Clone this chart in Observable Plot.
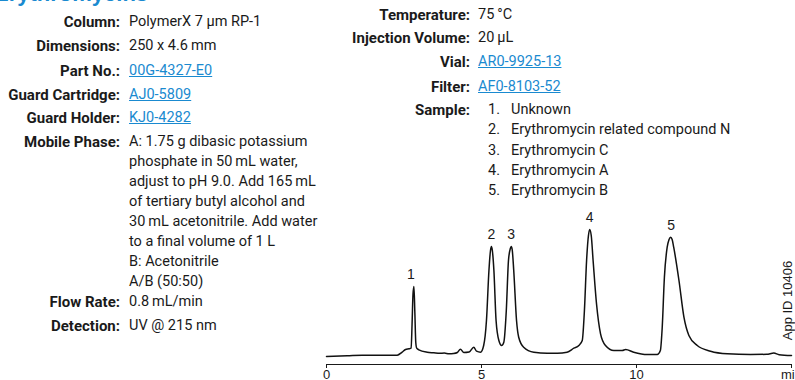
<!DOCTYPE html>
<html>
<head>
<meta charset="utf-8">
<script src="https://cdn.jsdelivr.net/npm/d3@7"></script>
<script src="https://cdn.jsdelivr.net/npm/@observablehq/plot@0.6"></script>
<style>
  html, body { margin: 0; padding: 0; background: #fff; }
  #wrap { position: relative; width: 795px; height: 380px; overflow: hidden; }
  #chart { position: absolute; left: 0; top: 0; }
  .t { position: absolute; white-space: nowrap; font-family: "Roboto", "Liberation Sans", sans-serif; font-size: 14.5px; line-height: 20px; color: #1a1a1a; }
  .lab { font-weight: bold; text-align: right; font-size: 15px; }
  .link { color: #1a8ad0; text-decoration: underline; }
  .title { position: absolute; left: -6px; top: -19px; font-family: "Liberation Sans", Arial, sans-serif; font-weight: bold; font-size: 22px; color: #1a8ad0; white-space: nowrap; }
  .appid { position: absolute; font-family: "Liberation Sans", Arial, sans-serif; font-size: 13px; color: #1a1a1a; white-space: nowrap; transform-origin: center; }
</style>
</head>
<body>
<div id="wrap">
  <div id="chart"></div>
</div>
<script>
// ---- Chromatogram trace (time in min, signal in arbitrary units) ----
const traceTime = [0, 0.67, 1.15, 2.28, 2.44, 2.55, 2.66, 2.73, 2.76, 2.79, 2.82, 2.85, 2.88, 2.91, 2.98, 3.25, 3.46, 3.65, 3.8, 3.95, 4.1, 4.22, 4.32, 4.43, 4.6, 4.75, 4.84, 4.97, 5.07, 5.16, 5.24, 5.29, 5.32, 5.35, 5.40, 5.47, 5.56, 5.65, 5.72, 5.80, 5.87, 5.93, 5.96, 5.99, 6.04, 6.13, 6.20, 6.36, 6.69, 7.12, 7.45, 7.76, 7.98, 8.14, 8.25, 8.32, 8.39, 8.45, 8.49, 8.54, 8.60, 8.71, 8.84, 9.0, 9.27, 9.54, 9.65, 9.91, 10.35, 10.67, 10.77, 10.83, 10.90, 10.99, 11.05, 11.10, 11.15, 11.20, 11.37, 11.53, 11.69, 11.96, 12.39, 12.93, 13.68, 14.2, 14.43, 14.6, 15];
const traceSignal = [8, 8.7, 9.3, 9.3, 12.3, 15, 15.7, 16.3, 40, 70, 78, 52, 22, 16.3, 14.7, 12.3, 11.7, 11.2, 11.4, 10.7, 11, 12, 15.3, 12, 12.5, 17.3, 13.3, 12.3, 19, 44, 94, 114, 118, 114, 94, 44, 24, 19, 22.3, 54, 104, 116, 118, 115, 94, 44, 27.3, 17.3, 12.3, 11.3, 11.3, 12.3, 16.3, 19, 24, 54, 104, 129, 135, 129, 104, 60.7, 30.7, 19, 14, 14, 15, 12.3, 10, 10, 14, 37.3, 87.3, 117.3, 125, 127.3, 125, 117.3, 84, 47.3, 29, 19, 13.3, 10.7, 10, 10.2, 11.5, 9.8, 9];

// ---- Peaks ----
const peakIds = ["1", "2", "3", "4", "5"];
const peakTimes = [2.72, 5.32, 5.96, 8.49, 11.12];
const peakHeights = [78, 118, 118, 135, 127];

// ---- Axis ticks ----
const tickValues = [0, 5, 10, 15];
const tickLabels = ["0", "5", "10", "min"];

// ---- Conditions text ----
const leftLabels = ["Column:", "Dimensions:", "Part No.:", "Guard Cartridge:", "Guard Holder:", "Mobile Phase:", "Flow Rate:", "Detection:"];
const leftValues = [
  ["PolymerX 7 µm RP-1"],
  ["250 x 4.6\u2009mm"],
  ["00G-4327-E0"],
  ["AJ0-5809"],
  ["KJ0-4282"],
  ["A: 1.75 g dibasic potassium", "phosphate in 50\u2009mL water,", "adjust to pH 9.0. Add 165\u2009mL", "of tertiary butyl alcohol and", "30\u2009mL acetonitrile. Add water", "to a final volume of 1 L", "B: Acetonitrile", "A/B (50:50)"],
  ["0.8\u2009mL/min"],
  ["UV @ 215 nm"]
];
const leftLinks = [false, false, true, true, true, false, false, false];
const leftRowY = [22, 46, 71, 95, 118, 142, 302, 326];

const rightLabels = ["Temperature:", "Injection Volume:", "Vial:", "Filter:", "Sample:"];
const rightValues = ["75\u2009°C", "20\u2009µL", "AR0-9925-13", "AF0-8103-52", ""];
const rightLinks = [false, false, true, true, false];
const rightRowY = [15, 38, 62, 87, 110];
const sampleNames = ["Unknown", "Erythromycin related compound N", "Erythromycin C", "Erythromycin A", "Erythromycin B"];
const sampleRowY = [110, 130, 151, 171, 191];

const titleText = "Erythromycins";
const appId = "App ID 10406";

// ---- Build chart ----
const trace = traceTime.map((t, i) => ({t, s: traceSignal[i]}));
const peaks = peakIds.map((id, i) => ({id, t: peakTimes[i], h: peakHeights[i]}));

const chart = Plot.plot({
  width: 795,
  height: 380,
  marginLeft: 326,
  marginRight: 4,
  marginTop: 214,
  marginBottom: 16,
  style: {background: "transparent", fontFamily: "'Liberation Sans', Arial, sans-serif", color: "#1a1a1a"},
  x: {domain: [0, 15]},
  y: {domain: [0, 150], axis: null},
  marks: [
    Plot.ruleY([0], {stroke: "#1a1a1a", strokeWidth: 1}),
    Plot.axisX({ticks: tickValues, tickSize: 4, tickPadding: 1, fontSize: 13, stroke: "#1a1a1a",
      tickFormat: d => tickLabels[tickValues.indexOf(d)], label: null}),
    Plot.line(trace, {x: "t", y: "s", stroke: "#111", strokeWidth: 1.5, curve: "monotone-x"}),
    Plot.text(peaks, {x: "t", y: "h", text: "id", dy: -12, fontSize: 14, fill: "#1a1a1a"})
  ]
});
document.getElementById("chart").appendChild(chart);

// ---- HTML text ----
const wrap = document.getElementById("wrap");
function add(cls, html, style) {
  const d = document.createElement("div");
  d.className = cls;
  d.innerHTML = html;
  Object.assign(d.style, style);
  wrap.appendChild(d);
  return d;
}
const t = document.createElement("div");
t.className = "title"; t.textContent = titleText; wrap.appendChild(t);

leftLabels.forEach((lab, i) => {
  add("t lab", lab, {right: (795 - 120) + "px", top: (leftRowY[i] - 10) + "px"});
  const v = leftValues[i].map(s => leftLinks[i] ? `<span class="link">${s}</span>` : s).join("<br>");
  add("t", v, {left: "129px", top: (leftRowY[i] - 10) + "px"});
});
rightLabels.forEach((lab, i) => {
  add("t lab", lab, {right: (795 - 470) + "px", top: (rightRowY[i] - 10) + "px"});
  if (rightValues[i]) {
    const v = rightLinks[i] ? `<span class="link">${rightValues[i]}</span>` : rightValues[i];
    add("t", v, {left: "478px", top: (rightRowY[i] - 10) + "px"});
  }
});
sampleNames.forEach((n, i) => {
  add("t", (i + 1) + ".", {left: "488px", top: (sampleRowY[i] - 10) + "px"});
  add("t", n, {left: "511px", top: (sampleRowY[i] - 10) + "px"});
});
const a = add("appid", appId, {});
const w = a.offsetWidth, h = a.offsetHeight;
a.style.left = (788 - w / 2) + "px";
a.style.top = (300 - h / 2) + "px";
a.style.transform = "rotate(-90deg)";
</script>
</body>
</html>
